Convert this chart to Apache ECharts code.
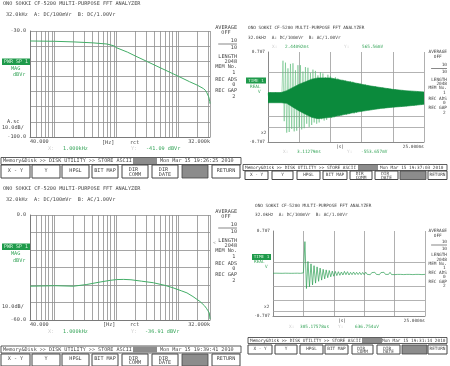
<!DOCTYPE html>
<html><head><meta charset="utf-8">
<script src="https://cdn.jsdelivr.net/npm/echarts/dist/echarts.min.js"></script>
<style>html,body{margin:0;padding:0;background:#fff}#c{width:450px;height:366px}</style>
</head><body><div id="c"></div>
<script>
// ---------- data ----------
// top-left: power spectrum, dBVr vs Hz
const tlFreq = [40, 100, 200, 400, 700, 900, 1000, 1500, 2000, 3000, 5000, 7000, 10000, 15000, 20000, 25000, 27000, 28500, 29500, 30500, 31200, 31700, 32000];
const tlDb   = [-36.6, -36.8, -37.2, -37.8, -38.6, -39.8, -41.1, -44.0, -46.5, -49.9, -54.2, -57.0, -60.0, -63.5, -65.8, -68.0, -69.2, -70.8, -71.5, -73.5, -74.5, -76.5, -78.0];
// bottom-left: power spectrum
const blFreq = [40, 100, 200, 330, 540, 800, 1000, 1300, 1700, 2500, 3900, 6000, 8100, 11000, 13600, 17000, 22000, 26000, 27000, 27500, 28000, 29000, 29500, 30500, 31200, 31700, 32000];
const blDb   = [-40.7, -40.4, -40.7, -39.7, -38.3, -37.3, -36.9, -36.8, -37.0, -37.8, -38.7, -40.2, -41.6, -43.3, -44.5, -46.6, -49.4, -51.8, -52.8, -51.9, -53.3, -52.9, -54.6, -54.1, -56.0, -55.4, -59.5];
// top-right: time record (V), one value every trStep ms
const trStep = 0.2;
const trOsc = [0.06,-0.08,0.07,-0.07,0.05,-0.08,0.07,-0.06,0.06,-0.08,0.07,
 -0.03,0.57,-0.38,0.54,-0.56,0.45,-0.55,0.52,-0.50,0.53,-0.54,0.42,-0.53,0.50,-0.48,0.50,-0.51,0.40,-0.49,0.47,
 -0.42,0.46,-0.47,0.38,-0.44,0.43,-0.40,0.41,-0.42,0.34,-0.40,0.39,-0.35,0.37,-0.37,0.31,-0.36,0.35,-0.31,0.33,
 -0.33,0.28,-0.32,0.31,-0.28,0.29,-0.30,0.25,-0.29,0.27,-0.26,0.26,-0.28,0.22,-0.27,0.25,-0.24,0.24,-0.26,0.20,
 -0.25,0.22,-0.22,0.21,-0.23,0.18,-0.22,0.20,-0.20,0.19,-0.21,0.16,-0.20,0.17,-0.18,0.17,-0.19,0.14,-0.19,0.15,
 -0.17,0.15,-0.18,0.12,-0.17,0.14,-0.16,0.13,-0.16,0.11,-0.16,0.12,-0.14,0.11,-0.15,0.10,-0.15,0.11,-0.13,0.10,
 -0.145,0.09,-0.14,0.095,-0.13,0.09,-0.14,0.085,-0.13,0.088,-0.12,0.08,-0.12,0.08,-0.115];
// top-right dense core of the trace (ms, V)
const trCoreT  = [0, 2.1, 2.2, 3, 4, 5, 6, 7, 8, 9, 10, 11, 12, 14, 16, 18, 20, 22, 25];
const trCoreUp = [0.07, 0.07, 0.05, 0.10, 0.15, 0.20, 0.24, 0.28, 0.30, 0.30, 0.30, 0.28, 0.26, 0.22, 0.18, 0.15, 0.12, 0.10, 0.08];
const trCoreLo = [-0.09, -0.09, -0.06, -0.10, -0.16, -0.22, -0.27, -0.32, -0.34, -0.33, -0.32, -0.30, -0.28, -0.24, -0.21, -0.18, -0.16, -0.145, -0.115];
// bottom-right: time record (V), one value every brStep ms
const brStep = 0.25;
const brOsc = [0.004,-0.004,0.005,-0.003,0.004,-0.005,0.003,-0.004,0.005,-0.003,0.004,-0.004,0.003,-0.005,0.004,-0.003,0.005,-0.004,0.003,-0.004,
 0.01,0.53,-0.25,0.20,-0.22,0.16,-0.19,0.13,-0.16,0.11,-0.13,0.09,-0.11,0.07,-0.09,0.06,-0.07,0.05,-0.055,0.04,
 -0.045,0.035,-0.035,0.03,-0.03,0.025,-0.025,0.035,-0.02,0.03,-0.025,0.02,-0.02,0.025,-0.02,0.02,-0.018,0.02,-0.02,0.018,
 -0.02,0.022,-0.015,0.018,-0.02,0.015,-0.018,0.02,-0.015,0.018,-0.02,0.015,-0.018,0.02,-0.015,0.018,-0.015,0.02,-0.018,0.015,
 -0.018,0.015,-0.015,0.018,-0.015,0.015,-0.018,0.015,-0.015,0.018,-0.015,0.015,-0.018,0.015,-0.015,0.018,-0.015,0.015,-0.018,0.015,-0.015];
// grid lines
const fftGridFreqs = [50,60,70,80,90,100,200,300,400,500,600,700,800,900,1000,2000,3000,4000,5000,6000,7000,8000,9000,10000,20000,30000,32000];
const trGridV = [0.707, 0.39, 0.04, -0.30, -0.48];
const brGridV = [0.707, 0.19, -0.22, -0.44, -0.62];
// tick labels
const tlYLabels = ['-30.0', '-100.0'];
const blYLabels = ['0.0', '-60.0'];
const fftXLabels = ['40.000', '32.000k'];
const timeYLabels = ['0.707', '-0.707'];
const timeXLabel = '25.000ms';
// texts
const titleText = 'ONO SOKKI CF-5200 MULTI-PURPOSE FFT ANALYZER';
const legendLabels = ['AVERAGE','OFF','10','10','LENGTH','2048','MEM No.','1','REC ADS','0','REC GAP','2'];
const buttonLabels = ['X - Y','Y','HPGL','BIT MAP','DIR|COMM','DIR|DATE','','RETURN'];
const menuText = 'Memory&Disk >> DISK UTILITY >> STORE ASCII';

// ---------- drawing ----------
const FF = '"DejaVu Sans Mono", monospace';
const TXT = '#454545', GRN = '#37a55a', FAINT = '#cfcfcf', BOX = '#1f9a4b';
const G = [];
function T(x, y, s, size, fill, align) {
  G.push({type:'text', x:x, y:y, silent:true, style:{text:s, fontSize:size, fontFamily:FF, fill:fill||TXT, align:align||'left', verticalAlign:'middle'}});
}
function R(x, y, w, h, fill, stroke, lw) {
  G.push({type:'rect', silent:true, shape:{x:x, y:y, width:w, height:h}, style:{fill:fill||'none', stroke:stroke||null, lineWidth:lw||0}});
}
function L(x1, y1, x2, y2, stroke, lw) {
  G.push({type:'line', silent:true, shape:{x1:x1, y1:y1, x2:x2, y2:y2}, style:{stroke:stroke, lineWidth:lw||0.8}});
}
function legend(xr, ys, size) {
  const cw = size * 0.602;
  T(xr, ys[0], legendLabels[0], size, TXT, 'right');
  T(xr - 3.5*cw, ys[1], legendLabels[1], size, TXT, 'center');
  T(xr, ys[2], legendLabels[2], size, TXT, 'right');
  L(xr - 6*cw, ys[3], xr, ys[3], '#555', 0.7);
  T(xr, ys[4], legendLabels[3], size, TXT, 'right');
  T(xr, ys[5], legendLabels[4], size, TXT, 'right');
  T(xr, ys[6], legendLabels[5], size, TXT, 'right');
  T(xr, ys[7], legendLabels[6], size, TXT, 'right');
  T(xr - 0.5*cw, ys[8], legendLabels[7], size, TXT, 'right');
  T(xr, ys[9], legendLabels[8], size, TXT, 'right');
  T(xr - 0.5*cw, ys[10], legendLabels[9], size, TXT, 'right');
  T(xr, ys[11], legendLabels[10], size, TXT, 'right');
  T(xr - 0.5*cw, ys[12], legendLabels[11], size, TXT, 'right');
}
function menu(x0, x1, by, bh, gx, gw, dx, date, btnY, btnH, btns, size) {
  const cw = size * 0.602;
  R(x0, by, x1 - x0, bh, '#fff', '#333', 0.8);
  T(x0 + 2, by + bh/2, menuText, size);
  R(gx, by + 0.5, gw, bh - 1, '#8c8c8c');
  T(dx, by + bh/2, date, size);
  btns.forEach((b, i) => {
    const lab = buttonLabels[i];
    if (lab === '') { R(b[0], btnY, b[1]-b[0], btnH, '#8c8c8c', '#444', 0.8); return; }
    R(b[0], btnY, b[1]-b[0], btnH, '#fff', '#444', 1);
    const cx = (b[0] + b[1]) / 2;
    if (lab.indexOf('|') >= 0) {
      const p = lab.split('|');
      T(cx - 2*cw, btnY + btnH*0.38, p[0], size);
      T(cx - 2*cw, btnY + btnH*0.76, p[1], size);
    } else {
      T(cx, btnY + btnH*0.42, lab, size, TXT, 'center');
    }
  });
}
function tagBox(x, y, w, h, s, size) {
  R(x, y, w, h, BOX);
  T(x + w/2, y + h/2 + 0.3, s, size, '#d6f3dc', 'center');
}

// ----- top-left panel -----
T(3, 4, titleText, 5.2);
T(6, 15, '32.0kHz  A: DC/100mVr  B: DC/1.00Vr', 5.2);
tagBox(2, 58.5, 28, 6.5, 'PWR SP 1', 5.0);
T(11, 69, 'MAG', 5.2, GRN); T(13, 75, 'dBVr', 5.2, GRN);
T(7, 122, 'A.sc', 5.2); T(2, 127.5, '10.0dB/', 5.2);
T(102, 142.5, '[Hz]', 5.2); T(130, 142.5, 'rct', 5.2);
T(48, 148.5, 'X:', 5.2, FAINT); T(63, 148.5, '1.000kHz', 5.2, GRN);
T(131, 148.5, 'Y:', 5.2, FAINT); T(146, 148.5, '-41.09 dBVr', 5.2, GRN);
legend(237, [28,33,41,44,47.5,57,62,67,73,80,85,91,97], 5.2);
const leftBtns = [[1,30],[32,60],[62,89],[92,118],[122,148],[152,178],[182,208],[212,240]];
menu(1, 241, 157.5, 7, 133, 24, 160, 'Mon Mar 15 19:26:25 2010', 165, 13, leftBtns, 5.1);

// ----- top-right panel -----
T(248, 28, titleText, 4.4);
T(248, 38, '32.0kHz  A: DC/100mVr  B: AC/1.00Vr', 4.4);
T(272, 47, 'X:', 4.4, FAINT); T(285, 47, '2.44092ms', 4.4, GRN);
T(344, 47, 'Y:', 4.4, FAINT); T(362, 47, '565.56mV', 4.4, GRN);
tagBox(246, 77.5, 20, 6, 'TIME 1', 4.3);
T(250, 86.5, 'REAL', 4.4, GRN); T(258, 92, 'V', 4.4, GRN);
T(261, 133, 'x2', 4.4);
T(336, 147, '[s]', 4.4);
T(283, 152, 'X:', 4.4, FAINT); T(297, 152, '3.11279ms', 4.4, GRN);
T(347, 152, 'Y:', 4.4, FAINT); T(361, 152, '-553.657mV', 4.4, GRN);
legend(447, [52,57,65,68.5,72,80,84,88,93,98.5,103,108,113], 4.4);
menu(243, 447, 164.5, 6, 358, 20, 380, 'Mon Mar 15 19:37:03 2010', 171, 8.5,
  [[245,268],[272,293],[297,320],[323,347],[350,372],[375,398],[400,426],[428,447]], 4.4);

// ----- bottom-left panel -----
T(3, 189, titleText, 5.2);
T(6, 200, '32.0kHz  A: DC/100mVr  B: AC/1.00Vr', 5.2);
tagBox(2, 243.5, 28, 6.5, 'PWR SP 1', 5.0);
T(11, 254, 'MAG', 5.2, GRN); T(13, 260.5, 'dBVr', 5.2, GRN);
T(2, 307, '10.0dB/', 5.2);
T(213, 243, '<', 4.5, '#999');
T(103, 325, '[Hz]', 5.2); T(130, 325, 'rct', 5.2);
T(48, 332, 'X:', 5.2, FAINT); T(63, 332, '1.000kHz', 5.2, GRN);
T(131, 332, 'Y:', 5.2, FAINT); T(145, 332, '-36.91 dBVr', 5.2, GRN);
legend(237, [212,217,225,228,231.5,241,246,251,257,264,269,275,281], 5.2);
menu(1, 241, 346, 7, 133, 24, 160, 'Mon Mar 15 19:39:41 2010', 354, 12, leftBtns, 5.1);

// ----- bottom-right panel -----
T(255, 206, titleText, 4.4);
T(255, 215, '32.0kHz  A: DC/100mVr  B: AC/1.00Vr', 4.4);
tagBox(252, 254, 19, 6, 'TIME 1', 4.3);
T(254, 262, 'REAL', 4.4, GRN); T(265, 266.5, 'V', 4.4, GRN);
T(264, 307, 'x2', 4.4);
T(338, 321, '[s]', 4.4);
T(289, 327, 'X:', 4.4, FAINT); T(300, 327, '305.17578us', 4.4, GRN);
T(338, 327, 'Y:', 4.4, FAINT); T(355, 327, '636.754uV', 4.4, GRN);
legend(447, [231,236,242,245,248.5,255,259.5,263.5,268,273,277,281.5,286], 4.4);
menu(248, 447, 337.5, 6, 362, 20, 382, 'Mon Mar 15 19:31:14 2010', 345, 9,
  [[248,272],[275,297],[300,323],[325,348],[352,373],[377,400],[402,427],[428,447]], 4.4);

// ----- axes -----
function near(a, b, t) { return Math.abs(a - b) < t; }
function fftX(gi, fs) {
  return {gridIndex:gi, type:'log', logBase:10, min:40, max:32000,
    axisLine:{show:true, onZero:false, lineStyle:{color:'#7a7a7a', width:1}},
    axisTick:{show:false}, splitLine:{show:false},
    axisLabel:{show:true, margin:2, fontSize:fs, fontFamily:FF, color:TXT, showMinLabel:true, showMaxLabel:true,
      alignMinLabel:'left', alignMaxLabel:'right',
      formatter: v => near(v, 40, 0.5) ? fftXLabels[0] : (near(v, 32000, 5) ? fftXLabels[1] : '')}};
}
function fftY(gi, mn, mx, labels) {
  return {gridIndex:gi, type:'value', min:mn, max:mx, interval:10,
    axisLine:{show:true, onZero:false, lineStyle:{color:'#7a7a7a', width:1}},
    axisTick:{show:false}, splitLine:{show:true, lineStyle:{color:'#8e8e8e', width:0.8}},
    axisLabel:{margin:4, fontSize:5.2, fontFamily:FF, color:TXT, showMinLabel:true, showMaxLabel:true,
      formatter: v => v === mx ? labels[0] : (v === mn ? labels[1] : '')}};
}
function timeX(gi) {
  return {gridIndex:gi, type:'value', min:0, max:25, interval:5,
    axisLine:{show:true, onZero:false, lineStyle:{color:'#8a8a8a', width:1}},
    axisTick:{show:false}, splitLine:{show:true, lineStyle:{color:'#9c9c9c', width:0.8}},
    axisLabel:{margin:2.5, fontSize:4.4, fontFamily:FF, color:TXT, showMaxLabel:true, alignMaxLabel:'right',
      formatter: v => v === 25 ? timeXLabel : ''}};
}
function timeY(gi, margin) {
  return {gridIndex:gi, type:'value', min:-0.707, max:0.707,
    axisLine:{show:true, onZero:false, lineStyle:{color:'#8a8a8a', width:1}},
    axisTick:{show:false}, splitLine:{show:false},
    axisLabel:{margin:margin, fontSize:4.4, fontFamily:FF, color:TXT, showMinLabel:true, showMaxLabel:true,
      formatter: v => near(v, 0.707, 1e-6) ? timeYLabels[0] : (near(v, -0.707, 1e-6) ? timeYLabels[1] : '')}};
}
function gridMark(vals, key, color) {
  return {silent:true, symbol:['none','none'], z:1, animation:false,
    label:{show:false}, emphasis:{disabled:true},
    lineStyle:{color:color, width:0.8, type:'solid'},
    data: vals.map(v => ({[key]: v}))};
}

const option = {
  animation:false,
  backgroundColor:'#fff',
  grid:[
    {left:30, top:31, width:180, height:106},
    {left:268, top:52, width:156, height:90},
    {left:30, top:215, width:180, height:105},
    {left:273, top:231, width:152, height:85}
  ],
  xAxis:[fftX(0, 5.2), timeX(1), fftX(2, 5.2), timeX(3)],
  yAxis:[fftY(0, -100, -30, tlYLabels), timeY(1, 3), fftY(2, -60, 0, blYLabels), timeY(3, 3)],
  series:[
    {type:'line', xAxisIndex:0, yAxisIndex:0, z:10, symbol:'none', silent:true,
     data: tlFreq.map((f, i) => [f, tlDb[i]]),
     lineStyle:{color:'#43ad67', width:1},
     markLine: gridMark(fftGridFreqs, 'xAxis', '#8e8e8e')},
    {type:'line', xAxisIndex:1, yAxisIndex:1, z:10, symbol:'none', silent:true,
     data: trOsc.map((v, i) => [+(i * trStep).toFixed(3), v]),
     lineStyle:{color:'#5fbd7c', width:0.55},
     markLine: gridMark(trGridV, 'yAxis', '#a0a0a0')},
    {type:'line', xAxisIndex:1, yAxisIndex:1, z:11, symbol:'none', silent:true,
     data: trCoreT.map((t, i) => [t, trCoreUp[i]]),
     lineStyle:{color:'#0b8a3c', width:0.6}, areaStyle:{color:'#0b8a3c', opacity:1}},
    {type:'line', xAxisIndex:1, yAxisIndex:1, z:11, symbol:'none', silent:true,
     data: trCoreT.map((t, i) => [t, trCoreLo[i]]),
     lineStyle:{color:'#0b8a3c', width:0.6}, areaStyle:{color:'#0b8a3c', opacity:1}},
    {type:'line', xAxisIndex:2, yAxisIndex:2, z:10, symbol:'none', silent:true,
     data: blFreq.map((f, i) => [f, blDb[i]]),
     lineStyle:{color:'#43ad67', width:1},
     markLine: gridMark(fftGridFreqs, 'xAxis', '#8e8e8e')},
    {type:'line', xAxisIndex:3, yAxisIndex:3, z:10, symbol:'none', silent:true,
     data: brOsc.map((v, i) => [+(i * brStep).toFixed(3), v]),
     lineStyle:{color:'#2e9f55', width:0.7},
     markLine: gridMark(brGridV, 'yAxis', '#a0a0a0')}
  ],
  graphic:{elements:G}
};
const chart = echarts.init(document.getElementById('c'), null, {renderer:'canvas'});
chart.setOption(option);
</script>
</body></html>
